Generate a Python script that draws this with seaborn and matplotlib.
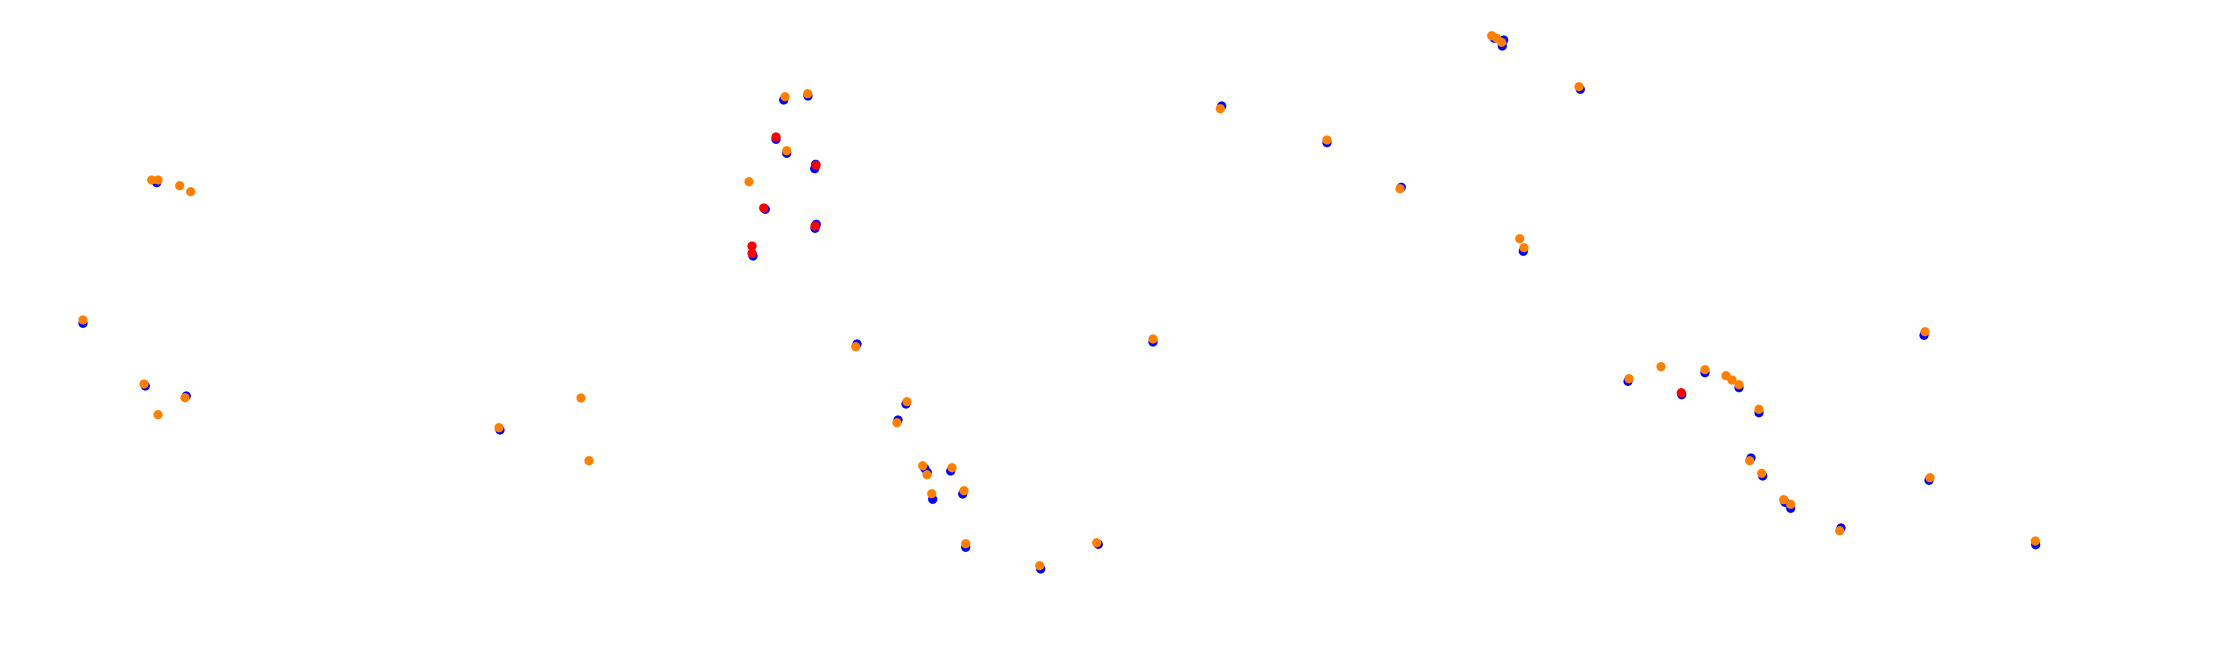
import pandas as pd
import matplotlib
matplotlib.use('Agg')
import matplotlib.pyplot as plt
import seaborn as sns

# point positions (pixel space, y pointing down)
blue_x = [156.7, 83, 145.3, 186.3, 783.7, 808, 776, 786.7, 815.7, 814.7, 765.3, 816.3, 815, 753,
          1494.3, 1503.7, 1502.3, 1580.3, 1628, 1705, 1681.7, 1739, 1759, 1751, 1762.7, 1785, 1790.7,
          1841, 924.7, 927.3, 950.7, 932.7, 962.7, 965.7, 1040.7, 1098.3, 500, 857, 906, 898,
          1221.7, 1327, 1401.3, 1153, 1523.3, 1924, 1929, 2035.7]
blue_y = [182.7, 323.3, 386, 396, 100, 96, 139.3, 153.3, 164.3, 168.7, 209.3, 224.3, 228.3, 256,
          38.3, 40, 46, 89.3, 381.3, 372.7, 394.7, 387.7, 412.7, 458, 476, 502.3, 508.3,
          528, 468.3, 472.3, 471, 499.3, 494, 547.3, 569, 544.3, 430, 344, 404, 420,
          106, 142.7, 187.3, 342, 251.3, 335.3, 480.3, 544.7]

orange_x = [151.7, 158, 179.7, 190.7, 83, 144, 185, 158, 785, 807.7, 786.7, 749,
            1491.7, 1496.7, 1501.7, 1579, 1629, 1661, 1705, 1726, 1732, 1739, 1759, 1749.7,
            1761.7, 1783.7, 1790.7, 1839.7, 922.7, 927, 952, 931.7, 964, 965.7, 1039.7, 1096.7,
            499, 581, 589, 855.7, 907, 897, 1220.3, 1327, 1400, 1153, 1519.7, 1524, 1925, 1930, 2035.3]
orange_y = [180, 180, 185.7, 191.7, 320, 384, 397.7, 414.7, 96.7, 93.7, 150.7, 181.7,
            35.7, 38.3, 42.3, 86.7, 378.7, 366.7, 369.7, 375.7, 380, 384.7, 409.3, 460.7,
            473.3, 499.7, 504.3, 530.7, 465.7, 474.7, 467.7, 493.7, 490.7, 543.7, 565.7, 542.7,
            427.7, 398, 460.7, 346.7, 401.7, 422.7, 108.7, 140, 188.7, 339, 238.7, 247.7, 331.7, 477.7, 541]

red_x = [776, 816, 763.7, 815, 752, 752, 1681.3]
red_y = [137, 165.3, 208, 226, 246, 253.3, 392.7]

series_names = ['blue', 'orange', 'red']
series_colors = ['#0000ff', '#ff8000', '#ff0000']

frames = []
for name, xs, ys in [('blue', blue_x, blue_y), ('orange', orange_x, orange_y), ('red', red_x, red_y)]:
    frames.append(pd.DataFrame({'x': xs, 'y': ys, 'series': name}))
df = pd.concat(frames, ignore_index=True)

sns.set_style('white')
fig = plt.figure(figsize=(22.33, 6.57), dpi=100)
ax = fig.add_axes([0, 0, 1, 1])
sns.scatterplot(data=df, x='x', y='y', hue='series', hue_order=series_names,
                palette=series_colors, s=44, linewidth=0, legend=False, ax=ax)
ax.set_xlim(0, 2233)
ax.set_ylim(657, 0)
ax.axis('off')
fig.savefig('out.png', dpi=100, facecolor='white')
